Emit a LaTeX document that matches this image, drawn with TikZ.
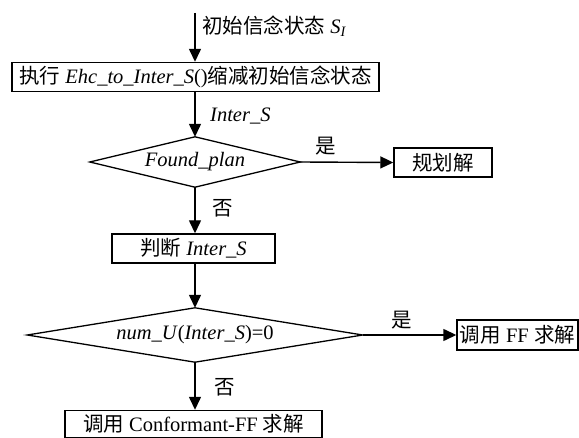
\documentclass[tikz,border=0pt]{standalone}
\usepackage{fontspec}
\setmainfont{Liberation Serif}
\newfontfamily\cjk{Noto Sans CJK SC}
\usetikzlibrary{arrows.meta}
\newcommand\zh[1]{{\cjk #1}}
\begin{document}
\begin{tikzpicture}[x=1pt,y=-1pt,
  txt/.style={font=\fontsize{20.5}{24}\selectfont},
  box/.style={txt,draw,line width=1.4pt,inner sep=0pt,minimum height=29pt},
  dec/.style={txt,inner sep=0pt},
  decline/.style={line width=1.3pt,line join=miter},
  arr/.style={line width=1.4pt,-{Triangle[length=13pt,width=12pt]}},
  lab/.style={txt,inner sep=0pt}]
\useasboundingbox (0,0) rectangle (579,438);
\coordinate (start) at (195,13);
\node[box,minimum width=367pt] (b1) at (195.5,77) {\zh{执行} \textit{Ehc\_to\_Inter\_S}()\zh{缩减初始信念状态}};
\node[lab,anchor=west] (l0) at (202,26) {\zh{初始信念状态} \textit{S}\textsubscript{\textit{I}}};
\node[dec,minimum width=210pt,minimum height=50pt] (d1) at (195,162) {\textit{Found\_plan}};
\draw[decline] (d1.west) -- (d1.north) -- (d1.east) -- (d1.south) -- cycle;
\node[lab,anchor=west] (l1) at (210,116) {\textit{Inter\_S}};
\node[box,minimum width=98pt] (b2) at (443,162.5) {\zh{规划解}};
\node[lab] (y1) at (326,146) {\zh{是}};
\node[lab] (n1) at (223,208) {\zh{否}};
\node[box,minimum width=163pt] (b3) at (193.5,248.5) {\zh{判断} \textit{Inter\_S}};
\node[dec,minimum width=335pt,minimum height=54pt] (d2) at (195,335) {\textit{num\_U}(\textit{Inter\_S})=0};
\draw[decline] (d2.west) -- (d2.north) -- (d2.east) -- (d2.south) -- cycle;
\node[box,minimum width=121pt,minimum height=30pt] (b4) at (517.5,335) {\zh{调用} FF \zh{求解}};
\node[lab] (y2) at (402,320) {\zh{是}};
\node[lab] (n2) at (225,387) {\zh{否}};
\node[box,minimum width=257pt,minimum height=27pt] (b5) at (193.5,424) {\zh{调用} Conformant-FF \zh{求解}};
\draw[arr] (start) -- (start |- b1.north);
\draw[arr] (d1.north |- b1.south) -- (d1.north);
\draw[arr] (d1.east) -- (b2.west);
\draw[arr] (d1.south) -- (d1.south |- b3.north);
\draw[arr] (d2.north |- b3.south) -- (d2.north);
\draw[arr] (d2.east) -- (b4.west);
\draw[arr] (d2.south) -- (d2.south |- b5.north);
\end{tikzpicture}
\end{document}
